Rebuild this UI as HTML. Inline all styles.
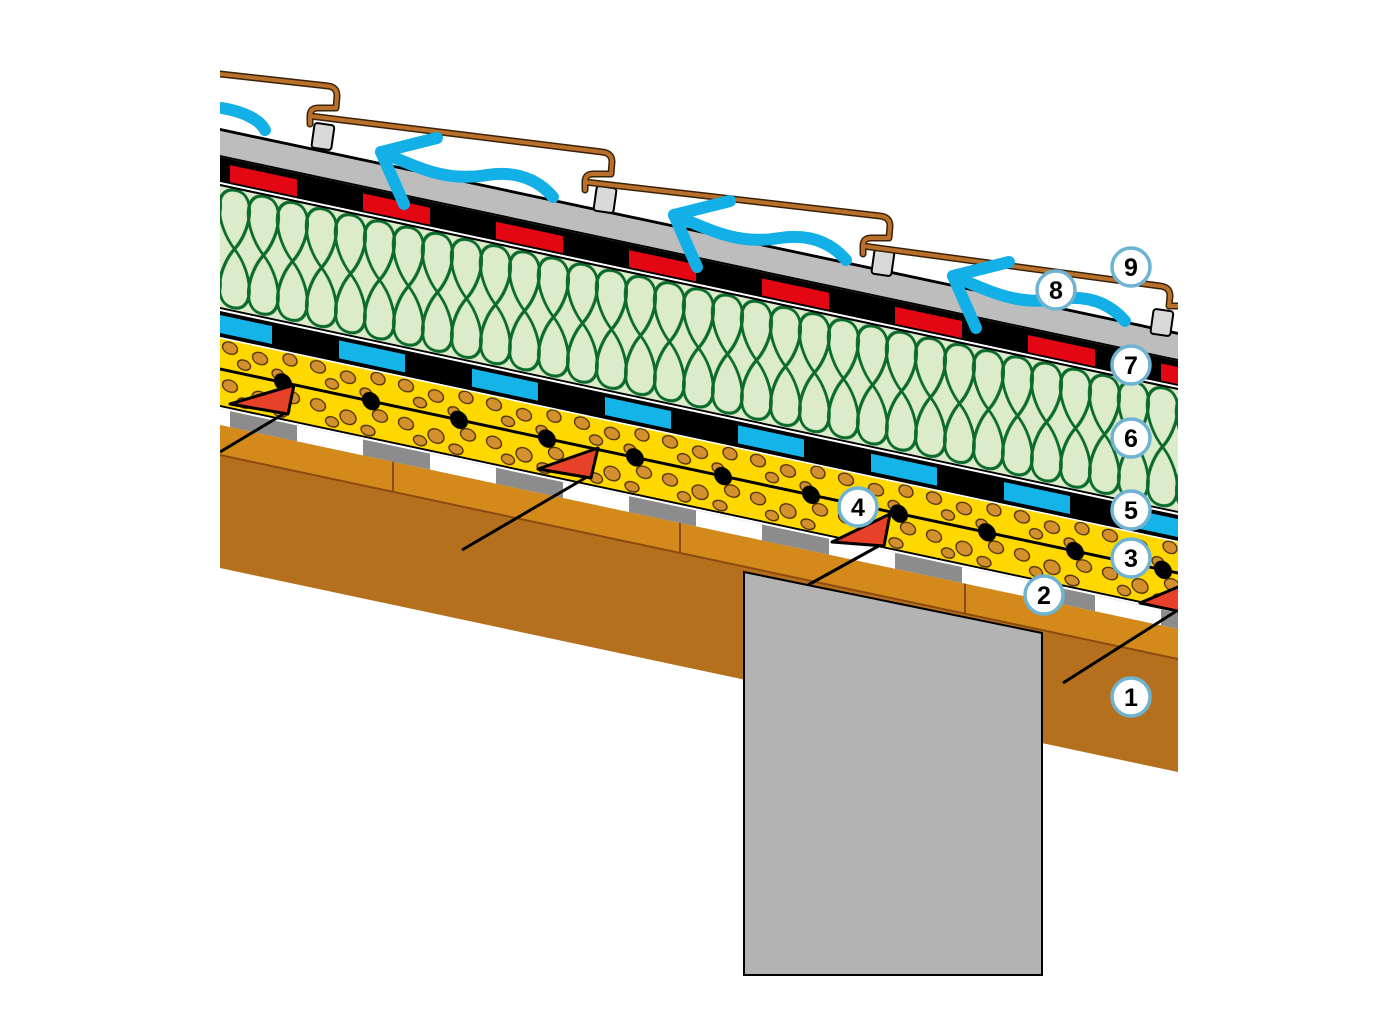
<!DOCTYPE html>
<html><head><meta charset="utf-8"><style>
html,body{margin:0;padding:0;background:#fff;}
svg{display:block;}
</style></head><body>
<svg width="1400" height="1020" viewBox="0 0 1400 1020" xmlns="http://www.w3.org/2000/svg">
<defs>
<clipPath id="clip"><rect x="220" y="0" width="958" height="1020"/></clipPath>
<pattern id="red" patternUnits="userSpaceOnUse" x="230" y="0" width="133" height="1020">
<rect x="0" y="163" width="67" height="17" fill="#e30613"/></pattern>
<pattern id="blue" patternUnits="userSpaceOnUse" x="206" y="0" width="133" height="1020">
<rect x="0" y="315" width="66" height="18" fill="#14b4e8"/></pattern>
<pattern id="dash" patternUnits="userSpaceOnUse" x="297" y="0" width="133" height="1020">
<rect x="0" y="409" width="66" height="16" fill="#fff"/></pattern>
<pattern id="ins" patternUnits="userSpaceOnUse" x="220" y="0" width="29" height="1020">
<g fill="none" stroke="#0b6b2c" stroke-width="3">
<path id="lp" d="M16,187 C38,187 30,226 14.5,246 C-1,266 -9,305 13,305 C36,305 33,266 14.5,246 C-4,226 -8,187 16,187 Z"/>
<use href="#lp" x="-29"/><use href="#lp" x="29"/>
</g></pattern>
<pattern id="dots" patternUnits="userSpaceOnUse" x="220" y="0" width="88" height="1020">
<g fill="#d4902c" stroke="#4a2e08" stroke-width="1.3">
<ellipse cx="10" cy="346" rx="7.5" ry="6"/><ellipse cx="40" cy="350" rx="7.5" ry="6"/>
<ellipse cx="70" cy="345" rx="7" ry="6"/>
<ellipse cx="24" cy="360" rx="6.5" ry="5"/><ellipse cx="58" cy="362" rx="6" ry="5"/>
<ellipse cx="10" cy="384" rx="7.5" ry="6"/><ellipse cx="40" cy="390" rx="8" ry="7"/>
<ellipse cx="72" cy="382" rx="7.5" ry="6"/>
<ellipse cx="24" cy="398" rx="6.5" ry="5"/><ellipse cx="60" cy="399" rx="7" ry="5"/>
</g></pattern>
<pattern id="bdots" patternUnits="userSpaceOnUse" x="239" y="0" width="88" height="1020">
<circle cx="44" cy="369" r="9" fill="#000"/></pattern>
</defs>

<g clip-path="url(#clip)">
<g transform="matrix(1,0.213,0,1,0,-46.86)">
<rect x="200" y="128" width="1000" height="3" fill="#000"/>
<rect x="200" y="131" width="1000" height="24" fill="#bdbdbd"/>
<rect x="200" y="155" width="1000" height="2" fill="#000"/>
<rect x="200" y="157" width="1000" height="25" fill="#000"/>
<rect x="200" y="157" width="1000" height="25" fill="url(#red)"/>
<rect x="200" y="182" width="1000" height="2" fill="#fff"/>
<rect x="200" y="184" width="1000" height="2" fill="#000"/>
<rect x="200" y="186" width="1000" height="121" fill="#dcebc9"/>
<rect x="200" y="184" width="1000" height="125" fill="url(#ins)"/>
<rect x="200" y="184" width="1000" height="2" fill="#000"/>
<rect x="200" y="307" width="1000" height="2" fill="#000"/>
<rect x="200" y="309" width="1000" height="2" fill="#fff"/>
<rect x="200" y="311" width="1000" height="26" fill="#000"/>
<rect x="200" y="311" width="1000" height="26" fill="url(#blue)"/>
<rect x="200" y="337" width="1000" height="1.5" fill="#fff"/>
<rect x="200" y="338.5" width="1000" height="67" fill="#ffd800"/>
<rect x="200" y="338.5" width="1000" height="67" fill="url(#dots)"/>
<rect x="200" y="367.5" width="1000" height="3" fill="#000"/>
<rect x="200" y="355" width="1000" height="30" fill="url(#bdots)"/>
<rect x="200" y="405" width="1000" height="2" fill="#000"/>
<rect x="200" y="407" width="1000" height="2" fill="#fff"/>
<rect x="200" y="409" width="1000" height="16" fill="#8c8c8c"/>
<rect x="200" y="409" width="1000" height="16" fill="url(#dash)"/>
<rect x="200" y="425" width="1000" height="30" fill="#d48a1a"/>
<g stroke="#8a4a10" stroke-width="2">
<line x1="393" y1="425" x2="393" y2="455"/><line x1="680" y1="425" x2="680" y2="455"/><line x1="965" y1="425" x2="965" y2="455"/>
</g>
<rect x="200" y="455" width="1000" height="113" fill="#b5701e"/>
<rect x="200" y="454" width="1000" height="2" fill="#8a4a10"/>
</g>

<g stroke="#000" stroke-width="3" fill="#e8412a" stroke-linejoin="round">
<line x1="290" y1="410" x2="220" y2="452"/>
<polygon points="230,404 294,385 288,414"/>
<line x1="592" y1="474" x2="462" y2="550"/>
<polygon points="538,469 598,448 591,478"/>
<line x1="884" y1="543" x2="808" y2="585"/>
<polygon points="832,542 890,514 884,546"/>
<line x1="1178" y1="610" x2="1063" y2="683"/>
<polygon points="1140,603 1185,584 1182,612"/>
</g>

<polygon points="744,572 1042,633 1042,975 744,975" fill="#b3b3b3" stroke="#000" stroke-width="2"/>

<g fill="#d9d9d9" stroke="#000" stroke-width="2">
<rect x="313" y="124" width="20" height="25" rx="3" transform="rotate(8 323 136)"/>
<rect x="595" y="187" width="20" height="25" rx="3" transform="rotate(8 605 200)"/>
<rect x="873" y="250" width="20" height="25" rx="3" transform="rotate(8 883 262)"/>
<rect x="1152" y="310" width="20" height="25" rx="3" transform="rotate(8 1162 322)"/>
</g>

<g fill="none" stroke-linejoin="round" stroke-linecap="round">
<path d="M 220,74 L 328,86 Q 337,87 337,96 L 336,108 L 318,108 Q 310,108 310,116 L 310,124 M 310,116 L 602,152 Q 612,153 612,162 L 611,174 L 593,174 Q 585,174 585,182 L 585,190 M 585,182 L 880,216 Q 890,217 890,226 L 889,238 L 871,238 Q 863,238 863,246 L 863,254 M 863,246 L 1160,286 Q 1170,287 1170,296 L 1169,306 L 1180,306" stroke="#3a2208" stroke-width="7"/>
<path d="M 220,74 L 328,86 Q 337,87 337,96 L 336,108 L 318,108 Q 310,108 310,116 L 310,124 M 310,116 L 602,152 Q 612,153 612,162 L 611,174 L 593,174 Q 585,174 585,182 L 585,190 M 585,182 L 880,216 Q 890,217 890,226 L 889,238 L 871,238 Q 863,238 863,246 L 863,254 M 863,246 L 1160,286 Q 1170,287 1170,296 L 1169,306 L 1180,306" stroke="#b8702a" stroke-width="4"/>
</g>

<g fill="none" stroke="#12b0e6" stroke-width="12" stroke-linecap="round" stroke-linejoin="round" clip-path="url(#clip)">
<path d="M 222,108 C 245,112 260,120 265,130"/>
<g id="ar">
<path d="M 381,152 C 420,168 445,182 487,175 C 520,170 540,182 553,197"/>
<path d="M 437,138 L 381,152 L 404,204"/>
</g>
<use href="#ar" x="293" y="63"/>
<use href="#ar" x="572" y="124"/>
</g>
</g>

<g font-family="Liberation Sans, sans-serif" font-weight="bold" font-size="25" text-anchor="middle">
<g fill="#fff" stroke="#6fb3d3" stroke-width="3.5">
<circle cx="1131" cy="267" r="19"/><circle cx="1056" cy="290" r="19"/>
<circle cx="1131" cy="365" r="19"/><circle cx="1131" cy="438" r="19"/>
<circle cx="1131" cy="510" r="19"/><circle cx="858" cy="507" r="19"/>
<circle cx="1131" cy="558" r="19"/><circle cx="1044" cy="595" r="19"/>
<circle cx="1131" cy="697" r="19"/>
</g>
<g fill="#000">
<text x="1131" y="276">9</text><text x="1056" y="299">8</text>
<text x="1131" y="374">7</text><text x="1131" y="447">6</text>
<text x="1131" y="519">5</text><text x="858" y="516">4</text>
<text x="1131" y="567">3</text><text x="1044" y="604">2</text>
<text x="1131" y="706">1</text>
</g>
</g>
</svg>
</body></html>
